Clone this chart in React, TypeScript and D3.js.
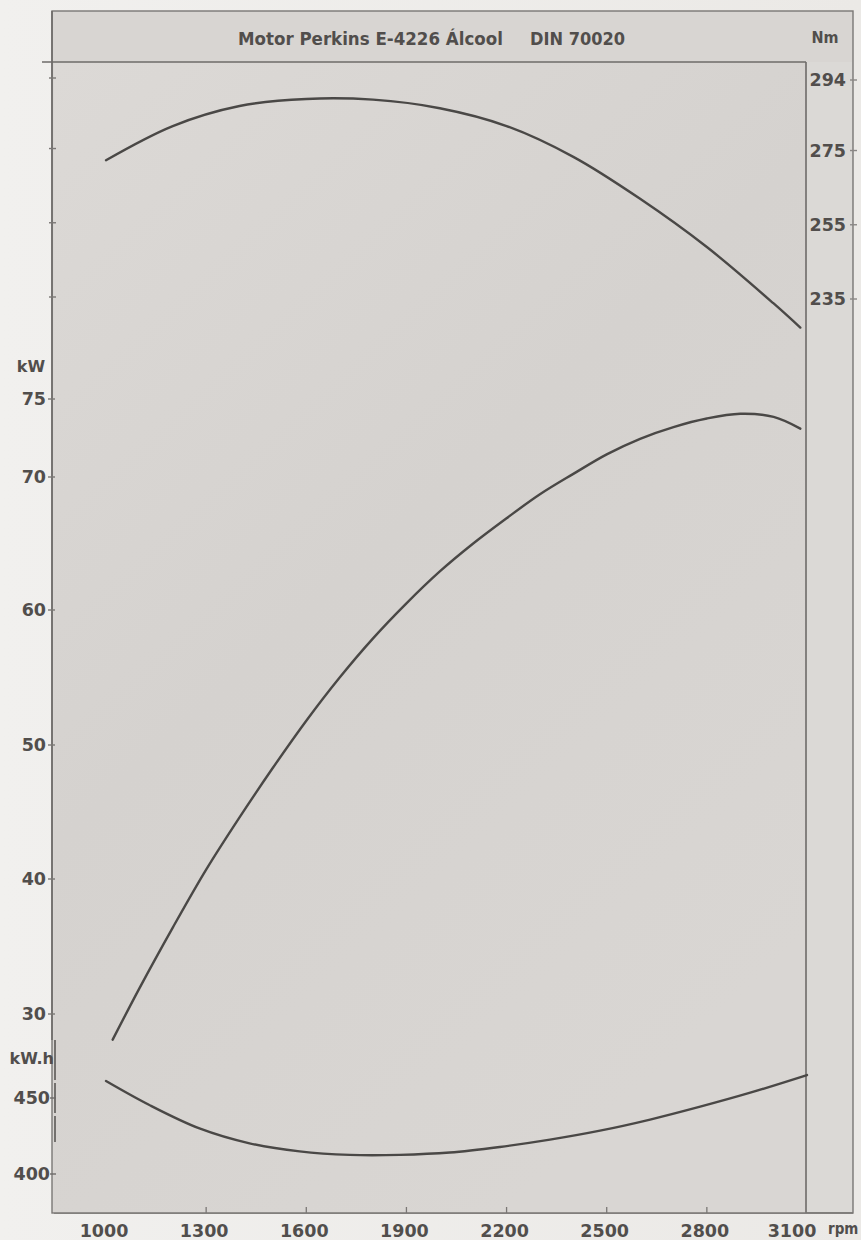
import React, { useRef, useEffect } from 'react';
import * as d3 from 'd3';

// rpm axis
const rpmTicks = [1000, 1300, 1600, 1900, 2200, 2500, 2800, 3100];

// torque (Nm), right axis
const nmTicks = [235, 255, 275, 294];
const rpmTorque = [1000, 1200, 1400, 1600, 1800, 2000, 2200, 2400, 2600, 2800, 3000, 3080];
const torqueNm = [272.4, 281.6, 287, 288.9, 288.7, 286.4, 281.6, 273.3, 262.0, 249.0, 233.8, 227.3];

// power (kW), left axis
const kwTicks = [30, 40, 50, 60, 70, 75];
const rpmPower = [1020, 1100, 1200, 1300, 1400, 1500, 1600, 1700, 1800, 1900, 2000, 2100, 2200, 2300, 2400, 2500, 2600, 2700, 2800, 2900, 3000, 3080];
const powerKw = [28.1, 31.9, 36.4, 40.7, 44.6, 48.3, 51.8, 55.0, 57.9, 60.5, 62.9, 65.0, 66.9, 68.7, 70.2, 71.45, 72.45, 73.2, 73.75, 74.05, 73.85, 73.1];

// specific consumption (g/kW.h), lower left axis
const consTicks = [400, 450];
const rpmCons = [1000, 1130, 1280, 1430, 1580, 1730, 1880, 2030, 2180, 2330, 2480, 2630, 2780, 2930, 3100];
const consumption = [461.2, 445.4, 430.0, 420.2, 414.9, 412.6, 412.6, 414.1, 417.8, 422.6, 428.5, 435.8, 444.3, 453.5, 465.1];

const W = 861;
const H = 1240;
const FONT = "'DejaVu Sans', sans-serif";
const COND = "'DejaVu Sans Condensed', 'Liberation Sans Narrow', sans-serif";
const INK = '#514e4c';
const LINE = '#4a4846';

const App: React.FC = () => {
  const ref = useRef<SVGSVGElement | null>(null);

  useEffect(() => {
    if (!ref.current) return;
    const svg = d3.select(ref.current);
    svg.selectAll('*').remove();

    const frame = { left: 52, right: 853, top: 11, header: 62, bottom: 1213, plotRight: 806 };

    const x = d3.scaleLinear().domain([1000, 3100]).range([106, 807]);
    const yNm = d3.scaleLinear().domain([235, 294]).range([299, 80]);
    const yKw = d3.scaleLinear().domain([30, 40, 50, 60, 70, 75]).range([1014, 879, 745, 610, 477, 399]);
    const yCons = d3.scaleLinear().domain([400, 450]).range([1174, 1098]);

    const defs = svg.append('defs');
    const bg = defs.append('linearGradient').attr('id', 'bg').attr('x1', 0).attr('x2', 1).attr('y1', 0).attr('y2', 0);
    bg.append('stop').attr('offset', '0%').attr('stop-color', '#f1f0ee');
    bg.append('stop').attr('offset', '100%').attr('stop-color', '#ebe9e6');
    const pg = defs.append('linearGradient').attr('id', 'plot').attr('x1', 0).attr('x2', 0.6).attr('y1', 0).attr('y2', 1);
    pg.append('stop').attr('offset', '0%').attr('stop-color', '#dcd9d6');
    pg.append('stop').attr('offset', '50%').attr('stop-color', '#d5d2cf');
    pg.append('stop').attr('offset', '100%').attr('stop-color', '#d9d6d3');

    svg.append('rect').attr('width', W).attr('height', H).attr('fill', 'url(#bg)');

    // outer box + header
    svg.append('rect')
      .attr('x', frame.left).attr('y', frame.top)
      .attr('width', frame.right - frame.left).attr('height', frame.bottom - frame.top)
      .attr('fill', '#d8d5d2').attr('stroke', '#7a7775').attr('stroke-width', 1.4);

    // plot area
    svg.append('rect')
      .attr('x', frame.left + 2).attr('y', frame.header)
      .attr('width', frame.plotRight - frame.left - 2).attr('height', frame.bottom - frame.header)
      .attr('fill', 'url(#plot)');

    // right strip
    svg.append('rect')
      .attr('x', frame.plotRight + 1).attr('y', frame.header)
      .attr('width', frame.right - frame.plotRight - 2).attr('height', frame.bottom - frame.header - 1)
      .attr('fill', '#dbd9d6');

    const lines = svg.append('g').attr('stroke', '#6e6b69').attr('stroke-width', 1.6).attr('fill', 'none');
    lines.append('line').attr('x1', 42).attr('x2', frame.plotRight).attr('y1', frame.header).attr('y2', frame.header);
    lines.append('line').attr('x1', frame.plotRight).attr('x2', frame.plotRight).attr('y1', frame.header).attr('y2', frame.bottom);
    lines.append('line').attr('x1', frame.left).attr('x2', frame.left).attr('y1', frame.top).attr('y2', 1040);
    lines.append('line').attr('x1', frame.left + 3).attr('x2', frame.left + 3).attr('y1', 1040).attr('y2', 1142)
      .attr('stroke', '#3f3d3b').attr('stroke-width', 1.3).attr('stroke-dasharray', '40,3,30,3,26');

    // title
    svg.append('text')
      .attr('x', 238).attr('y', 45)
      .attr('font-family', COND)
      .attr('font-weight', 'bold').attr('font-size', 18.5).attr('fill', INK)
      .text('Motor Perkins E-4226 Álcool');
    svg.append('text')
      .attr('x', 530).attr('y', 45)
      .attr('font-family', COND)
      .attr('font-weight', 'bold').attr('font-size', 18).attr('fill', INK)
      .text('DIN 70020');
    svg.append('text')
      .attr('x', 825).attr('y', 43).attr('text-anchor', 'middle')
      .attr('font-family', COND)
      .attr('font-weight', 'bold').attr('font-size', 16).attr('fill', INK)
      .text('Nm');

    const label = (g: d3.Selection<SVGGElement, unknown, null, undefined>) =>
      g.attr('font-family', FONT).attr('font-weight', 'bold').attr('font-size', 17.5).attr('fill', INK);

    // right axis (Nm)
    const right = svg.append('g').call(label);
    nmTicks.forEach(v => {
      right.append('line').attr('x1', frame.right - 3).attr('x2', frame.right + 4)
        .attr('y1', yNm(v)).attr('y2', yNm(v)).attr('stroke', '#8a8785').attr('stroke-width', 1.4);
      right.append('text').attr('x', 846).attr('y', yNm(v)).attr('dy', '0.36em')
        .attr('text-anchor', 'end').text(String(v));
      // unlabeled matching ticks on the left line
      right.append('line').attr('x1', frame.left - 3).attr('x2', frame.left + 4)
        .attr('y1', yNm(v) - 2).attr('y2', yNm(v) - 2).attr('stroke', '#7a7775').attr('stroke-width', 1.4);
    });

    // left axis (kW)
    const left = svg.append('g').call(label);
    left.append('text').attr('x', 31).attr('y', 366).attr('dy', '0.36em').attr('text-anchor', 'middle')
      .attr('font-size', 16).text('kW');
    kwTicks.forEach(v => {
      left.append('line').attr('x1', frame.left - 4).attr('x2', frame.left + 3)
        .attr('y1', yKw(v)).attr('y2', yKw(v)).attr('stroke', '#7a7775').attr('stroke-width', 1.4);
      left.append('text').attr('x', 46).attr('y', yKw(v)).attr('dy', '0.36em')
        .attr('text-anchor', 'end').text(String(v));
    });

    // left axis (kW.h)
    const lower = svg.append('g').call(label);
    lower.append('text').attr('x', 54).attr('y', 1058).attr('dy', '0.36em')
      .attr('text-anchor', 'end').attr('font-size', 16).text('kW.h');
    consTicks.forEach(v => {
      lower.append('line').attr('x1', frame.left - 2).attr('x2', frame.left + 4)
        .attr('y1', yCons(v)).attr('y2', yCons(v)).attr('stroke', '#6e6b69').attr('stroke-width', 1.4);
      lower.append('text').attr('x', 50).attr('y', yCons(v)).attr('dy', '0.36em')
        .attr('text-anchor', 'end').text(String(v));
    });

    // bottom axis (rpm)
    const bottom = svg.append('g').call(label);
    bottom.append('line').attr('x1', frame.left + 2).attr('x2', frame.right)
      .attr('y1', frame.bottom).attr('y2', frame.bottom).attr('stroke', '#7a7775').attr('stroke-width', 1.4);
    rpmTicks.forEach((v, i) => {
      if (i > 0 && i < rpmTicks.length - 1) {
        bottom.append('line').attr('x1', x(v)).attr('x2', x(v))
          .attr('y1', frame.bottom).attr('y2', frame.bottom - 6).attr('stroke', '#7a7775').attr('stroke-width', 1.3);
      }
      const last = i === rpmTicks.length - 1;
      bottom.append('text')
        .attr('x', last ? x(v) - 15 : x(v) - 2).attr('y', 1237).attr('text-anchor', 'middle')
        .text(String(v));
    });
    svg.append('text').attr('x', 828).attr('y', 1234)
      .attr('font-family', COND).attr('font-weight', 'bold').attr('font-size', 15).attr('fill', INK)
      .text('rpm');

    // curves
    const curve = d3.curveCatmullRom.alpha(0.5);
    const draw = (xs: number[], ys: number[], sy: d3.ScaleLinear<number, number>) => {
      const pts = xs.map((r, i) => [x(r), sy(ys[i])] as [number, number]);
      svg.append('path')
        .attr('d', d3.line().curve(curve)(pts))
        .attr('fill', 'none').attr('stroke', LINE).attr('stroke-width', 2.4).attr('stroke-linecap', 'round');
    };
    draw(rpmTorque, torqueNm, yNm);
    draw(rpmPower, powerKw, yKw);
    draw(rpmCons, consumption, yCons);
  }, []);

  return (
    <svg ref={ref} width={W} height={H} viewBox={`0 0 ${W} ${H}`}
      style={{ position: 'absolute', left: 0, top: 0, display: 'block' }} />
  );
};

export default App;
